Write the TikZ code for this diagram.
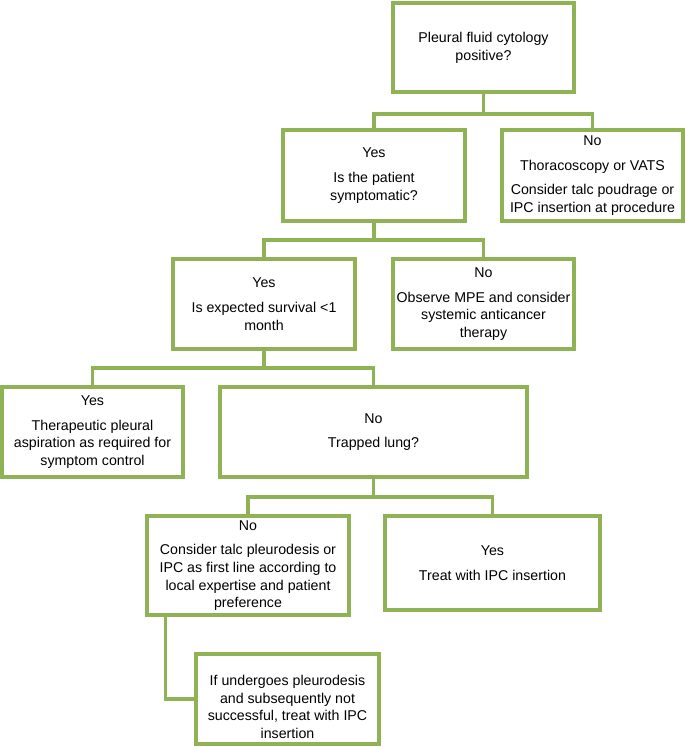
\documentclass[tikz,border=0pt]{standalone}
\usepackage{fontspec}
\setmainfont{Liberation Sans}
\definecolor{gr}{RGB}{143,178,84}
\begin{document}
\begin{tikzpicture}[x=1pt,y=-1pt,
  box/.style={draw=gr, line width=3.5pt, inner sep=0pt, align=center,
    font=\fontsize{14.2}{17.7}\selectfont},
  txt/.style={inner sep=0pt, align=center, font=\fontsize{14.2}{17.7}\selectfont},
  conn/.style={draw=gr, line width=3.5pt}]
\useasboundingbox (0,0) rectangle (685,747);

\node[box, minimum width=181pt, minimum height=89pt] (b1) at (483.5,47.5)
  {Pleural fluid cytology\\positive?};
\node[box, minimum width=182pt, minimum height=91pt] (b2) at (374,175.5)
  {Yes\\[7pt]Is the patient\\symptomatic?};
\node[box, minimum width=181pt, minimum height=91pt] (b3) at (592.5,175.5)
  {No\\[7pt]Thoracoscopy or VATS\\[7pt]Consider talc poudrage or\\IPC insertion at procedure};
\node[box, minimum width=182pt, minimum height=90pt] (b4) at (264,304)
  {Yes\\[7pt]Is expected survival <1\\month};
\node[box, minimum width=181pt, minimum height=90pt] (b5) at (483.5,304)
  {No\\[7pt]Observe MPE and consider\\systemic anticancer\\therapy};
\node[box, minimum width=181pt, minimum height=90pt] (b6) at (92.5,432)
  {Yes\\[7pt]Therapeutic pleural\\aspiration as required for\\symptom control};
\node[box, minimum width=307pt, minimum height=90pt] (b7) at (373.5,432)
  {No\\[7pt]Trapped lung?};
\node[box, minimum width=202pt, minimum height=99pt] (b8) at (248,565.5)
  {No\\[7pt]Consider talc pleurodesis or\\IPC as first line according to\\local expertise and patient\\preference};
\node[box, minimum width=215pt, minimum height=94pt] (b9) at (492.5,563)
  {Yes\\[7pt]Treat with IPC insertion};
\node[box, minimum width=183pt, minimum height=90pt] (b10) at (287.5,699) {};
\node[txt] (b10t) at (287.5,707)
  {If undergoes pleurodesis\\and subsequently not\\successful, treat with IPC\\insertion};

\coordinate (j1) at (483.5,114);
\coordinate (j2) at (374,240);
\coordinate (j3) at (264,368);
\coordinate (j4) at (373.5,497);

\draw[conn] (b1.south) -- (j1);
\draw[conn] (j1) -| (b2.north);
\draw[conn] (j1) -| (b3.north);
\draw[conn] (b2.south) -- (j2);
\draw[conn] (j2) -| (b4.north);
\draw[conn] (j2) -| (b5.north);
\draw[conn] (b4.south) -- (j3);
\draw[conn] (j3) -| (b6.north);
\draw[conn] (j3) -| (b7.north);
\draw[conn] (b7.south) -- (j4);
\draw[conn] (j4) -| (b8.north);
\draw[conn] (j4) -| (b9.north);
\draw[conn] ([xshift=20pt]b8.south west) |- (b10.west);
\end{tikzpicture}
\end{document}
